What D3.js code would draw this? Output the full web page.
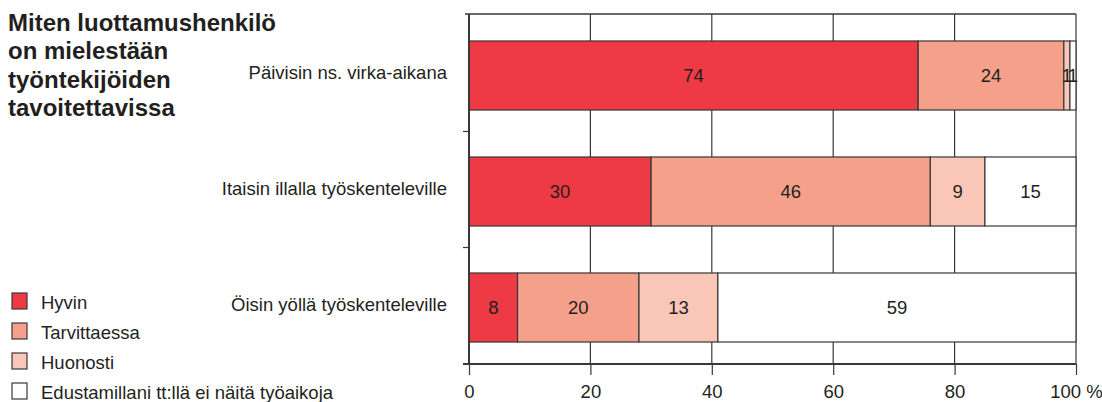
<!DOCTYPE html>
<html>
<head>
<meta charset="utf-8">
<script src="https://cdn.jsdelivr.net/npm/d3@7"></script>
<style>
  body { margin: 0; background: #fff; }
  svg text { font-family: "Liberation Sans", Arial, sans-serif; fill: #231f20; }
</style>
</head>
<body>
<svg id="chart" width="1102" height="402"></svg>
<script>
var categories = ["Päivisin ns. virka-aikana", "Itaisin illalla työskenteleville", "Öisin yöllä työskenteleville"];
var seriesNames = ["Hyvin", "Tarvittaessa", "Huonosti", "Edustamillani tt:llä ei näitä työaikoja"];
var colors = ["#ee3a45", "#f4a08b", "#f9c6b7", "#ffffff"];
var hyvin = [74, 30, 8];
var tarvittaessa = [24, 46, 20];
var huonosti = [1, 9, 13];
var eiTyoaikoja = [1, 15, 59];
var tickValues = [0, 20, 40, 60, 80, 100];
var titleLines = ["Miten luottamushenkilö", "on mielestään", "työntekijöiden", "tavoitettavissa"];

var svg = d3.select("#chart");
var plotLeft = 469, plotRight = 1076, plotTop = 14, plotBottom = 364;
var fs = "18.5px";

var x = d3.scaleLinear().domain([0, 100]).range([plotLeft, plotRight]);
// bands run a little below the frame, as in the original
var y = d3.scaleBand().domain(categories).range([17.5, 365.5]).paddingInner(0.405).paddingOuter(0.2025);

var rows = categories.map(function(c, i) {
  return { cat: c, Hyvin: hyvin[i], Tarvittaessa: tarvittaessa[i], Huonosti: huonosti[i], Ei: eiTyoaikoja[i] };
});
var keys = ["Hyvin", "Tarvittaessa", "Huonosti", "Ei"];
var stack = d3.stack().keys(keys)(rows);

var line = "#3a3738";

// grid lines
svg.append("g").selectAll("line")
  .data(tickValues.slice(1))
  .enter().append("line")
  .attr("x1", function(d) { return x(d); })
  .attr("x2", function(d) { return x(d); })
  .attr("y1", plotTop).attr("y2", plotBottom)
  .attr("stroke", line).attr("stroke-width", 1.2);

// top frame
svg.append("line").attr("x1", plotLeft - 4).attr("x2", plotRight).attr("y1", plotTop).attr("y2", plotTop)
  .attr("stroke", line).attr("stroke-width", 1.5);

// bars
stack.forEach(function(layer, li) {
  svg.append("g").selectAll("rect")
    .data(layer)
    .enter().append("rect")
    .attr("x", function(d) { return x(d[0]); })
    .attr("width", function(d) { return x(d[1]) - x(d[0]); })
    .attr("y", function(d, i) { return y(categories[i]); })
    .attr("height", y.bandwidth())
    .attr("fill", colors[li])
    .attr("stroke", line).attr("stroke-width", 1.2);
});

// value labels
stack.forEach(function(layer, li) {
  svg.append("g").selectAll("text")
    .data(layer)
    .enter().append("text")
    .attr("x", function(d) { return (x(d[0]) + x(d[1])) / 2; })
    .attr("y", function(d, i) { return y(categories[i]) + y.bandwidth() / 2 + 6.5; })
    .attr("text-anchor", "middle")
    .style("font-size", fs)
    .text(function(d) { return d[1] - d[0]; });
});

// x axis
var xAxis = d3.axisBottom(x).tickValues(tickValues).tickSize(11).tickFormat(function(d) { return d === 100 ? "100 %" : d; });
var gx = svg.append("g").attr("transform", "translate(0," + plotBottom + ")").call(xAxis);
gx.select(".domain").remove();
gx.selectAll(".tick line").attr("stroke", line).attr("stroke-width", 1.2);
gx.selectAll(".tick text").attr("y", 21).style("font-size", fs).attr("fill", "#231f20");
svg.append("line").attr("x1", plotLeft - 6).attr("x2", plotRight).attr("y1", plotBottom).attr("y2", plotBottom)
  .attr("stroke", line).attr("stroke-width", 2);

// y axis
svg.append("line").attr("x1", plotLeft).attr("x2", plotLeft).attr("y1", plotTop).attr("y2", plotBottom)
  .attr("stroke", line).attr("stroke-width", 2);
var step = y.step();
svg.append("g").selectAll("line")
  .data(categories.slice(1))
  .enter().append("line")
  .attr("x1", plotLeft - 6).attr("x2", plotLeft)
  .attr("y1", function(d) { return y(d) - y.paddingInner() * step / 2 - 2; })
  .attr("y2", function(d) { return y(d) - y.paddingInner() * step / 2 - 2; })
  .attr("stroke", line).attr("stroke-width", 1.2);

svg.append("g").selectAll("text")
  .data(categories)
  .enter().append("text")
  .attr("x", 447)
  .attr("y", function(d) { return y(d) + y.bandwidth() / 2 + 3; })
  .attr("text-anchor", "end")
  .style("font-size", fs)
  .text(function(d) { return d; });

// title
svg.append("g").selectAll("text")
  .data(titleLines)
  .enter().append("text")
  .attr("x", 8)
  .attr("y", function(d, i) { return 31 + i * 28.3; })
  .style("font-size", "24px").style("font-weight", "bold")
  .text(function(d) { return d; });

// legend
var legend = svg.append("g").selectAll("g")
  .data(seriesNames)
  .enter().append("g")
  .attr("transform", function(d, i) { return "translate(12," + (293 + i * 30) + ")"; });
legend.append("rect").attr("width", 15).attr("height", 16)
  .attr("fill", function(d, i) { return colors[i]; })
  .attr("stroke", line).attr("stroke-width", 1.2);
legend.append("text").attr("x", 29).attr("y", 16).style("font-size", fs)
  .text(function(d) { return d; });
</script>
</body>
</html>
